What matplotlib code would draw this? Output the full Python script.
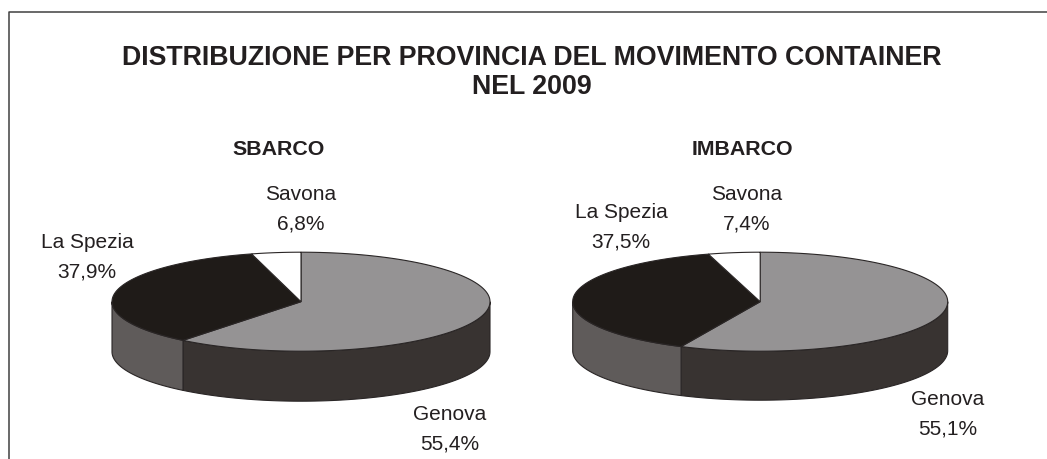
#!/usr/bin/env python3
"""
Distribuzione per provincia del movimento container nel 2009 - two 3D-look pies
"""

import numpy as np
import matplotlib.pyplot as plt
from matplotlib.patches import Polygon

# Data
provinces = ['Genova', 'La Spezia', 'Savona']
sbarco = [55.4, 37.9, 6.8]
imbarco = [55.1, 37.5, 7.4]
sbarco_labels = ['55,4%', '37,9%', '6,8%']
imbarco_labels = ['55,1%', '37,5%', '7,4%']

TEXT = '#231f20'
EDGE = '#2a2626'
top_colors = ['#959394', '#1f1b18', '#ffffff']
side_colors = ['#383331', '#5f5b5a', '#ffffff']

plt.rcParams['font.family'] = ['Liberation Sans', 'DejaVu Sans']

fig = plt.figure(figsize=(10.47, 4.59), dpi=100)
ax = fig.add_axes([0, 0, 1, 1])
ax.set_xlim(0, 1047)
ax.set_ylim(459, 0)
ax.axis('off')


def ell(theta, cx, cy, rx, ry):
    # theta in degrees, clockwise from 12 o'clock
    t = np.radians(theta)
    return cx + rx * np.sin(t), cy - ry * np.cos(t)


def pie3d(values, cx, cy, rx, ry, depth, nudge):
    # the source picture is not a clean projection, so the slice edges get a small shift
    edges = np.cumsum(values) / np.sum(values) * 360
    starts = [0, edges[0] + nudge[0], edges[1] + nudge[1]]
    ends = [starts[1], starts[2], 360]

    # walls first, only the front half is visible
    for a, b, c in zip(starts, ends, side_colors):
        a2, b2 = max(a, 90), min(b, 270)
        if a2 >= b2:
            continue
        th = np.linspace(a2, b2, 100)
        x, y = ell(th, cx, cy, rx, ry)
        xy = np.r_[np.c_[x, y], np.c_[x[::-1], y[::-1] + depth]]
        ax.add_patch(Polygon(xy, closed=True, fc=c, ec=EDGE, lw=0.8))

    # top face
    for a, b, c in zip(starts, ends, top_colors):
        th = np.linspace(a, b, 150)
        x, y = ell(th, cx, cy, rx, ry)
        xy = np.r_[[[cx, cy]], np.c_[x, y]]
        ax.add_patch(Polygon(xy, closed=True, fc=c, ec=EDGE, lw=0.8))


pie3d(sbarco, 301, 301.7, 189, 49.5, 50, (19.4, 9.3))
pie3d(imbarco, 760.2, 301.7, 187.5, 49.5, 49, (6.6, 10.6))

# Frame, only left and top are in the image
ax.plot([8.5, 8.5, 1047], [459, 11.7, 11.7], color='#404040', lw=1.1)

# Titles
ax.text(531.5, 58, 'DISTRIBUZIONE PER PROVINCIA DEL MOVIMENTO CONTAINER',
        fontsize=19.3, fontweight='bold', color=TEXT, ha='center', va='center')
ax.text(531.5, 87, 'NEL 2009', fontsize=19.3, fontweight='bold', color=TEXT, ha='center', va='center')
ax.text(278.5, 149.5, 'SBARCO', fontsize=15.4, fontweight='bold', color=TEXT, ha='center', va='center')
ax.text(742.5, 149.5, 'IMBARCO', fontsize=15.4, fontweight='bold', color=TEXT, ha='center', va='center')

# Labels
label_pos = [
    (sbarco_labels, [(450, 414), (87, 243), (301, 194)]),
    (imbarco_labels, [(948, 399.5), (621, 213), (746.5, 194)]),
]
for texts, positions in label_pos:
    for name, pct, (x, y) in zip(provinces, texts, positions):
        ax.text(x, y, name, fontsize=15, color=TEXT, ha='center', va='center')
        ax.text(x, y + 29.5, pct, fontsize=15, color=TEXT, ha='center', va='center')

plt.savefig('out.png', dpi=100)
